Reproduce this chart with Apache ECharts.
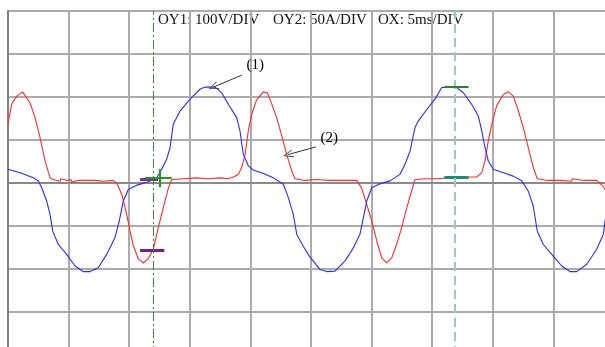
<!DOCTYPE html>
<html>
<head>
<meta charset="utf-8">
<script src="https://cdn.jsdelivr.net/npm/echarts@6/dist/echarts.min.js"></script>
<style>
  html, body { margin: 0; padding: 0; background: #ffffff; overflow: hidden; }
  /* the scope screen runs past the right and bottom edges of the window */
  #chart { width: 620px; height: 362px; }
</style>
</head>
<body>
<div id="chart"></div>
<script>
// Time base: 5 ms per division, 10 divisions
const timeTicks = [0, 5, 10, 15, 20, 25, 30, 35, 40, 45, 50];

// Trace (1): voltage, [time ms, volts], 100 V per division
const voltage = [
  [0, 32], [1.0, 24], [2.09, 12], [2.50, 5], [2.78, -11], [3.19, -42], [3.47, -73], [3.69, -112],
  [4.15, -143], [4.84, -166], [5.53, -193], [6.21, -206], [6.77, -206], [7.45, -197],
  [8.14, -166], [8.83, -127], [9.18, -88], [9.51, -42], [9.93, -15], [10.62, -5],
  [11.44, 1], [12.27, 12], [12.68, 32], [13.09, 55], [13.37, 82], [13.64, 137],
  [14.19, 167], [15.02, 195], [15.84, 218], [16.25, 223], [17.08, 223], [17.63, 210],
  [18.18, 183], [18.87, 152], [19.14, 121], [19.41, 67], [19.83, 40], [20.24, 30],
  [21.07, 22], [21.89, 12], [22.72, -3], [23.13, -34], [23.54, -73], [23.82, -119],
  [24.36, -147], [24.86, -170], [25.74, -201], [26.30, -206], [26.98, -205], [27.81, -181],
  [28.49, -151], [29.04, -119], [29.32, -81], [29.60, -42], [30.01, -11], [30.69, -2],
  [31.52, 5], [32.34, 20], [32.76, 44], [33.17, 74], [33.58, 129], [33.85, 144],
  [34.55, 171], [35.23, 195], [35.78, 222], [36.47, 223], [37.02, 222], [37.57, 210],
  [38.26, 183], [38.80, 156], [39.09, 121], [39.36, 82], [39.63, 51], [40.04, 32],
  [40.87, 24], [41.69, 16], [42.39, 5], [42.93, -19], [43.34, -54], [43.67, -112],
  [44.17, -143], [44.99, -170], [45.69, -193], [46.37, -206], [46.92, -206], [47.75, -189],
  [48.57, -154], [49.12, -119], [49.26, -88], [49.59, -53]
];

// Trace (2): current, [time ms, amperes], 50 A per division
const current = [
  [0, 69], [0.31, 92], [0.72, 101], [1.21, 106], [1.82, 93], [2.23, 76], [2.64, 53],
  [3.05, 26], [3.47, 6], [3.74, 4], [4.3, 2], [4.35, 5], [4.9, 3], [5.2, 4], [5.25, 1],
  [5.8, 3], [6.5, 3], [6.55, 5], [7.2, 3], [7.9, 2], [8.66, 3],
  [8.97, 0], [9.38, -13], [9.74, -33], [10.07, -56], [10.34, -73], [10.75, -88],
  [11.16, -93], [11.58, -88], [11.99, -77], [12.40, -52], [12.81, -29], [13.23, -6],
  [13.51, 4], [14.5, 5], [15.5, 6], [16.5, 5], [17.5, 6], [17.55, 4], [18.2, 5], [18.59, 7],
  [19.00, 10], [19.28, 18], [19.56, 33], [19.83, 61], [20.11, 80], [20.52, 97],
  [21.07, 106], [21.40, 105], [21.76, 92], [22.17, 76], [22.58, 55], [23.00, 33],
  [23.41, 14], [23.68, 5], [24.5, 3], [24.55, 5], [25.5, 4], [26.5, 3], [26.55, 1],
  [27.5, 3], [28.77, 3],
  [29.18, -6], [29.60, -25], [30.01, -44], [30.42, -67], [30.83, -87], [31.25, -93],
  [31.66, -87], [32.07, -71], [32.48, -52], [32.90, -29], [33.31, -9], [33.58, 4],
  [34.5, 5], [35.5, 5], [36.5, 6], [37.5, 7], [38.67, 7],
  [39.09, 12], [39.36, 26], [39.63, 49], [39.91, 68], [40.32, 90], [40.87, 103],
  [41.28, 106], [41.69, 101], [42.11, 84], [42.52, 64], [42.93, 41], [43.34, 18],
  [43.67, 5], [44.5, 3], [44.55, 1], [45.5, 3], [46.5, 2], [46.55, 5], [47.5, 3], [48.57, 3],
  [48.98, -2], [49.26, -7], [49.59, -15]
];

// Cursor positions (ms) and cursor readouts
const cursorA = 12.0;
const cursorB = 36.9;
const readA = { iLow: -78, iBase: 4, iCross: 6, tFrom: 10.9, tTo: 12.9, tCrossFrom: 11.3, tCrossTo: 13.5, tCross: 12.5 };
const readB = { vPeak: 223, iBase: 7, tFrom: 36.0, tTo: 38.0 };

// Callout labels
const labelVoltage = { text: '(1)', at: [20.4, 274], from: [19.3, 251], to: [16.94, 223] };
const labelCurrent = { text: '(2)', at: [26.5, 52], from: [25.4, 42], to: [23.1, 33] };

const header = ['OY1: 100V/DIV', 'OY2: 50A/DIV', 'OX: 5ms/DIV'];

const serif = '"Liberation Serif", "DejaVu Serif", serif';
// thin open arrowhead for the callouts
const openArrow = 'path://M5,0 L10,12 L9,12 L5,2.2 L1,12 L0,12 Z';
const chart = echarts.init(document.getElementById('chart'), null, { renderer: 'canvas' });

function seg(a, b, color, width) {
  return [
    { coord: a, lineStyle: { color: color, width: width, type: 'solid' } },
    { coord: b }
  ];
}

function callout(lbl) {
  return [
    { coord: lbl.from, symbol: 'none', lineStyle: { color: '#333', width: 1, type: 'solid' } },
    { coord: lbl.to, symbol: openArrow, symbolSize: [8, 10] }
  ];
}

const textMark = (lbl) => ({
  coord: lbl.at,
  symbol: 'rect',
  symbolSize: 1,
  itemStyle: { color: 'rgba(0,0,0,0)' },
  label: { show: true, position: 'inside', formatter: lbl.text, color: '#000', fontFamily: serif, fontSize: 15 }
});

chart.setOption({
  animation: false,
  backgroundColor: '#ffffff',
  grid: { left: 8, top: 11, width: 606, height: 344 },
  graphic: [
    { type: 'text', left: 158, top: 13, style: { text: header[0], font: '15px ' + serif, fill: '#111' } },
    { type: 'text', left: 273, top: 13, style: { text: header[1], font: '15px ' + serif, fill: '#111' } },
    { type: 'text', left: 378, top: 13, style: { text: header[2], font: '15px ' + serif, fill: '#111' } }
  ],
  xAxis: {
    type: 'value', min: timeTicks[0], max: timeTicks[timeTicks.length - 1], interval: 5,
    axisLine: { show: true, onZero: true, lineStyle: { color: '#8a8a8a', width: 2 } },
    axisTick: { show: false }, axisLabel: { show: false },
    splitLine: { show: true, lineStyle: { color: '#ababab', width: 2 } }
  },
  yAxis: [
    {
      type: 'value', min: -400, max: 400, interval: 100,
      axisLine: { show: true, lineStyle: { color: '#808080', width: 2 } },
      axisTick: { show: false }, axisLabel: { show: false },
      splitLine: { show: true, lineStyle: { color: '#ababab', width: 2 } }
    },
    {
      type: 'value', min: -200, max: 200, interval: 50, show: false,
      splitLine: { show: false }
    }
  ],
  series: [
    {
      name: 'current', type: 'line', yAxisIndex: 1, data: current,
      showSymbol: false, silent: true,
      lineStyle: { color: '#ff2a2a', width: 1.1 },
      markLine: {
        silent: true, symbol: ['none', 'none'], label: { show: false },
        data: [
          seg([readA.tFrom, readA.iLow], [readA.tTo, readA.iLow], '#7a1f8a', 3),
          seg([readA.tFrom, readA.iBase], [readA.tTo - 0.5, readA.iBase], '#8a2a9a', 3),
          seg([readA.tCrossFrom, readA.iCross], [readA.tCrossTo, readA.iCross], '#1f9a1f', 2),
          seg([readA.tCross, 16], [readA.tCross, -5], '#1f9a1f', 2),
          seg([readB.tFrom, readB.iBase], [readB.tTo, readB.iBase], '#1e8a70', 3),
          callout(labelCurrent)
        ]
      },
      markPoint: { silent: true, data: [textMark(labelCurrent)] }
    },
    {
      name: 'voltage', type: 'line', yAxisIndex: 0, data: voltage,
      showSymbol: false, silent: true,
      lineStyle: { color: '#2a2aff', width: 1.1 },
      markLine: {
        silent: true, symbol: ['none', 'none'], label: { show: false },
        data: [
          { xAxis: cursorA, lineStyle: { color: '#2f8f2f', width: 1, type: [9, 3, 2, 3] } },
          { xAxis: cursorB, lineStyle: { color: '#8fcccc', width: 2, type: [9, 5] } },
          seg([readB.tFrom, readB.vPeak], [readB.tTo, readB.vPeak], '#1f8a1f', 2),
          callout(labelVoltage)
        ]
      },
      markPoint: { silent: true, data: [textMark(labelVoltage)] }
    }
  ]
});
</script>
</body>
</html>
